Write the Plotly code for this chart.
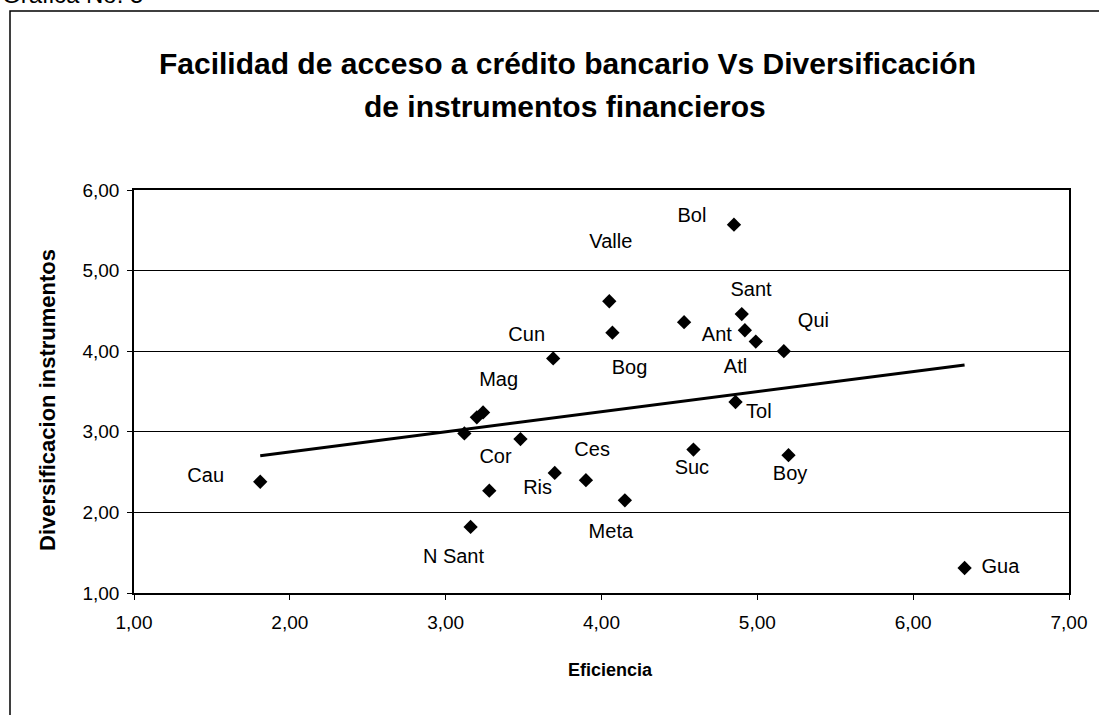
import numpy as np
import plotly.graph_objects as go

# Eficiencia (x) vs Diversificación de instrumentos (y), un punto por departamento
EFICIENCIA = [1.81, 3.16, 3.12, 3.20, 3.24, 3.28, 3.48, 3.70, 3.90, 4.15, 4.59, 5.20,
              6.33, 4.86, 4.05, 4.07, 3.69, 4.53, 4.90, 4.92, 4.99, 5.17, 4.85]
DIVERSIFICACION = [2.38, 1.82, 2.98, 3.18, 3.24, 2.27, 2.91, 2.49, 2.40, 2.15, 2.78, 2.71,
                   1.31, 3.37, 4.62, 4.23, 3.91, 4.36, 4.46, 4.26, 4.12, 4.00, 5.57]

# etiquetas de datos (movidas a mano en el original)
LABELS = ["Cau", "N Sant", "Mag", "Cor", "Ris", "Ces", "Meta", "Suc", "Boy", "Gua",
          "Tol", "Atl", "Ant", "Qui", "Sant", "Bol", "Valle", "Bog", "Cun"]
LABEL_X = [1.46, 3.05, 3.34, 3.32, 3.59, 3.94, 4.06, 4.58, 5.21, 6.56,
           5.01, 4.86, 4.74, 5.36, 4.96, 4.58, 4.06, 4.18, 3.52]
LABEL_Y = [2.44, 1.44, 3.63, 2.67, 2.29, 2.76, 1.74, 2.54, 2.46, 1.31,
           3.23, 3.79, 4.19, 4.36, 4.75, 5.67, 5.34, 3.78, 4.19]

X_TICKS = [1, 2, 3, 4, 5, 6, 7]
Y_TICKS = [1, 2, 3, 4, 5, 6]

FONT = "Liberation Sans, Arial, sans-serif"
WIDTH, HEIGHT = 1099, 715
L, R, T, B = 134, 30, 190, 122
PW, PH = WIDTH - L - R, HEIGHT - T - B


def px_x(p):
    return (p - L) / PW


def px_y(p):
    return (T + PH - p) / PH


# tendencia lineal (mínimos cuadrados, como la de Excel)
x = np.array(EFICIENCIA)
y = np.array(DIVERSIFICACION)
slope, intercept = np.polyfit(x, y, 1)
trend_x = np.array([x.min(), x.max()])
trend_y = slope * trend_x + intercept

fig = go.Figure()
fig.add_trace(go.Scatter(
    x=trend_x, y=trend_y, mode="lines",
    line=dict(color="black", width=3), hoverinfo="skip",
))
fig.add_trace(go.Scatter(
    x=EFICIENCIA, y=DIVERSIFICACION, mode="markers",
    marker=dict(symbol="diamond", size=11, color="black"),
))
fig.add_trace(go.Scatter(
    x=LABEL_X, y=LABEL_Y, mode="text", text=LABELS,
    textfont=dict(family=FONT, size=20, color="black"), hoverinfo="skip",
))

fig.update_xaxes(
    range=[1, 7], tickvals=X_TICKS, tickformat=".2f",
    showgrid=False, zeroline=False,
    showline=True, linecolor="black", linewidth=1.5, mirror=True,
    ticks="outside", ticklen=5, tickcolor="black", ticklabelstandoff=6,
    tickfont=dict(family=FONT, size=19, color="black"),
)
fig.update_yaxes(
    range=[1, 6], tickvals=Y_TICKS, tickformat=".2f",
    showgrid=True, gridcolor="black", gridwidth=1, zeroline=False,
    showline=True, linecolor="black", linewidth=1.5, mirror=True,
    ticks="outside", ticklen=5, tickcolor="black", ticklabelstandoff=4,
    tickfont=dict(family=FONT, size=19, color="black"),
)

annotations = [
    dict(text="Facilidad de acceso a crédito bancario Vs Diversificación",
         x=px_x(567), y=px_y(63), font=dict(size=30)),
    dict(text="de instrumentos financieros",
         x=px_x(565), y=px_y(106), font=dict(size=30)),
    dict(text="Eficiencia", x=px_x(610), y=px_y(670), font=dict(size=18)),
    dict(text="Diversificacion instrumentos", x=px_x(47), y=px_y(400),
         font=dict(size=22), textangle=-90),
]
for a in annotations:
    a.update(xref="paper", yref="paper", showarrow=False,
             xanchor="center", yanchor="middle")
    a["font"].update(family=FONT, color="black", weight="bold")
annotations.append(dict(
    text="Grafica No. 5", xref="paper", yref="paper", showarrow=False,
    x=px_x(0), y=px_y(10), xanchor="left", yanchor="bottom",
    font=dict(family=FONT, size=24, color="black"),
))

fig.update_layout(
    width=WIDTH, height=HEIGHT,
    margin=dict(l=L, r=R, t=T, b=B),
    paper_bgcolor="white", plot_bgcolor="white",
    separators=",.",
    showlegend=False,
    annotations=annotations,
    shapes=[dict(
        type="rect", xref="paper", yref="paper",
        x0=px_x(10), x1=px_x(WIDTH + 20), y0=px_y(HEIGHT + 20), y1=px_y(11),
        line=dict(color="black", width=1.5), layer="below",
    )],
)

# sin el margen por defecto del navegador, la figura ocupa la ventana entera
fig.write_html(
    "out.html",
    config={"displayModeBar": False},
    post_script="document.body.style.margin = '0';",
)
